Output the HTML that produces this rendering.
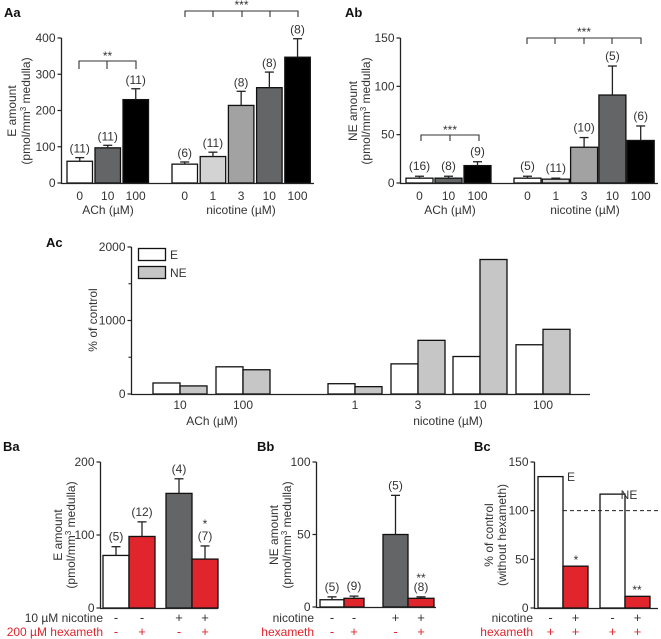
<!DOCTYPE html>
<html><head><meta charset="utf-8">
<style>
html,body{margin:0;padding:0;background:#fff;}
svg{display:block;font-family:"Liberation Sans",sans-serif;}
text{fill:#222;}
</style></head>
<body>
<svg id="fig" width="661" height="639" viewBox="0 0 661 639" xmlns="http://www.w3.org/2000/svg"></svg>
<script>
// ---- Data ----
const aaCats = ["0","10","100","0","1","3","10","100"];
const aaVals = [60,97,230,52,73,214,263,347];
const aaErr = [70,104,260,58,85,253,306,398];
const aaN = ["(11)","(11)","(11)","(6)","(11)","(8)","(8)","(8)"];
const abVals = [5,5,18,5,4,37,91,44];
const abErr = [7,7,22,7,5,47,121,59];
const abN = ["(16)","(8)","(9)","(5)","(11)","(10)","(5)","(6)"];
const acCats = ["10","100","1","3","10","100"];
const acE = [150,370,140,410,510,670];
const acNE = [110,330,100,730,1830,880];
const baVals = [72,98,157,67];
const baErr = [84,118,177,85];
const baN = ["(5)","(12)","(4)","(7)"];
const bbVals = [5,6,50,6];
const bbErr = [7,7.5,77,7];
const bbN = ["(5)","(9)","(5)","(8)"];
const bcVals = [135,43,117,12];
const nicSigns = ["-","-","+","+"];
const hexSigns = ["-","+","-","+"];
const bcNic = ["-","+","-","+"];
const bcHex = ["+","+","+","+"];
const aTicks = [0,100,200,300,400];
const abTicks = [0,50,100,150];
const acTicks = [0,1000,2000];
const baTicks = [0,100,200];
const bbTicks = [0,50,100];
const bcTicks = [0,50,100,150];

const svg = document.getElementById('fig');
const NS = "http://www.w3.org/2000/svg";
function el(tag, attrs, parent){
  const e = document.createElementNS(NS, tag);
  for (const k in attrs) e.setAttribute(k, attrs[k]);
  (parent||svg).appendChild(e);
  return e;
}
function txt(s, x, y, size, anchor, parent, color, weight){
  const t = el('text', {x:x, y:y, 'font-size':size, 'text-anchor':anchor||'middle'}, parent);
  if (color) t.setAttribute('style','fill:'+color);
  if (weight) t.setAttribute('font-weight', weight);
  t.textContent = s;
  return t;
}
function scale(y0, h, max){ return v => y0 - v/max*h; }
function yAxis(g, x, y, ticks, minor, y0, yTop, fs){
  el('line',{x1:x,y1:y0+0.5,x2:x,y2:yTop,stroke:'#222','stroke-width':1.3},g);
  ticks.forEach(t=>{
    el('line',{x1:x-4,y1:y(t),x2:x,y2:y(t),stroke:'#222','stroke-width':1.2},g);
    const l = txt(String(t), x-6, y(t)+4, fs||12, 'end', g, '#333');
    
    
  });
  (minor||[]).forEach(t=>{
    el('line',{x1:x-3,y1:y(t),x2:x,y2:y(t),stroke:'#222','stroke-width':1.1},g);
  });
}
function yTitle(g, lines, cx, cy){
  lines.forEach((s,i)=>{
    const t = el('text',{x:0,y:0,'font-size':12,'text-anchor':'middle',transform:`translate(${cx[i]},${cy}) rotate(-90)`},g);
    t.setAttribute('style','fill:#333');
    t.innerHTML = s;
  });
}
function bar(g, x, w, y, v, err, fill, name){
  const b = el('rect',{x:x, y:y(v), width:w, height:y(0)-y(v), fill:fill, stroke:'#111','stroke-width':1.3},g);
  
  
  if (err!=null){
    const cx = x + w/2;
    el('line',{x1:cx,y1:y(v),x2:cx,y2:y(err),stroke:'#222','stroke-width':1.3},g);
    el('line',{x1:cx-4.5,y1:y(err),x2:cx+4.5,y2:y(err),stroke:'#222','stroke-width':1.3},g);
  }
}
function panelLabel(s,x,y){
  const t = txt(s,x,y,13,'start',svg,'#111','bold');
  
  
}
function bracket(g, x1, x2, y, mids, tick, stars, sy){
  el('path',{d:`M${x1},${y+tick}V${y}H${x2}V${y+tick}`,fill:'none',stroke:'#333','stroke-width':1.1},g);
  mids.forEach(m=>el('line',{x1:m,y1:y,x2:m,y2:y+tick,stroke:'#333','stroke-width':1.1},g));
  txt(stars,(x1+x2)/2,sy,12,'middle',g,'#333');
}

// ---- Panel Aa ----
(function(){
  const g = el('g',{});
  
  
  panelLabel('Aa',4,17);
  const y = scale(183,145,400);
  const fills = ['#fff','#636567','#000','#fff','#d3d3d3','#a2a2a2','#636567','#000'];
  const xs = i => i<3 ? 67+i*28 : 172+(i-3)*28.2;
  aaVals.forEach((v,i)=>{
    bar(g, xs(i), 25.5, y, v, aaErr[i], fills[i], 'bar-aa-'+i);
    txt(aaN[i], xs(i)+12.7, y(aaErr[i])-5, 12,'middle',g,'#333');
    txt(aaCats[i], xs(i)+12.7, 200, 12,'middle',g,'#333');
  });
  el('line',{x1:61,y1:183.5,x2:314,y2:183.5,stroke:'#222','stroke-width':1.3},g);
  yAxis(g,61.5,y,aTicks,[],183,38);
  txt('ACh (\u00b5M)',108,214,12,'middle',g,'#333');
  txt('nicotine (\u00b5M)',241,214,12,'middle',g,'#333');
  yTitle(g,['E amount','(pmol/mm<tspan font-size="8" dy="-4">3</tspan><tspan dy="4"> medulla)</tspan>'],[16,30],111);
  bracket(g,79,136,61,[107],8,'**',60);
  bracket(g,185,298,11,[213,242,270],6,'***',9);
})();

// ---- Panel Ab ----
(function(){
  const g = el('g',{});
  
  
  panelLabel('Ab',345,17);
  const y = scale(183,145,150);
  const fills = ['#fff','#636567','#000','#fff','#d3d3d3','#a2a2a2','#636567','#000'];
  const xs = i => i<3 ? 406+i*29 : 514+(i-3)*28.3;
  abVals.forEach((v,i)=>{
    bar(g, xs(i), 27, y, v, abErr[i], fills[i], 'bar-ab-'+i);
    txt(abN[i], xs(i)+13.5, y(abErr[i])-6, 12,'middle',g,'#333');
    txt(aaCats[i], xs(i)+13.5, 200, 12,'middle',g,'#333');
  });
  el('line',{x1:400,y1:183.5,x2:658,y2:183.5,stroke:'#222','stroke-width':1.3},g);
  yAxis(g,400.5,y,abTicks,[],183,38);
  txt('ACh (\u00b5M)',450,214,12,'middle',g,'#333');
  txt('nicotine (\u00b5M)',585,214,12,'middle',g,'#333');
  yTitle(g,['NE amount','(pmol/mm<tspan font-size="8" dy="-4">3</tspan><tspan dy="4"> medulla)</tspan>'],[357,370],111);
  bracket(g,421,479,135,[450],6,'***',134);
  bracket(g,527,641,38,[555,584,612],6,'***',36);
})();

// ---- Panel Ac ----
(function(){
  const g = el('g',{});
  
  
  panelLabel('Ac',46,247);
  const y = scale(394,147,2000);
  const xs = [153,216,328,391,453,516];
  acE.forEach((v,i)=>{
    bar(g, xs[i], 27, y, v, null, '#fff', 'bar-ac-e-'+acCats[i]);
    bar(g, xs[i]+27, 27, y, acNE[i], null, '#c6c6c6', 'bar-ac-ne-'+acCats[i]);
    txt(acCats[i], xs[i]+27, 409, 12,'middle',g,'#333');
  });
  el('line',{x1:131,y1:394.5,x2:590,y2:394.5,stroke:'#222','stroke-width':1.3},g);
  yAxis(g,131.5,y,acTicks,[500,1500],394,247);
  txt('ACh (\u00b5M)',212,425,12,'middle',g,'#333');
  txt('nicotine (\u00b5M)',448,425,12,'middle',g,'#333');
  yTitle(g,['% of control'],[97],320);
  const l1 = el('rect',{x:138.5,y:248.5,width:27,height:12,fill:'#fff',stroke:'#111','stroke-width':1.3},g);
  
  
  txt('E',170,259,12,'start',g,'#333');
  const l2 = el('rect',{x:138.5,y:266.5,width:27,height:12,fill:'#c6c6c6',stroke:'#111','stroke-width':1.3},g);
  
  
  txt('NE',170,277,12,'start',g,'#333');
})();

// ---- Panel Ba ----
(function(){
  const g = el('g',{});
  
  
  panelLabel('Ba',3,451);
  const y = scale(608,146,200);
  const fills = ['#fff','#e0252d','#636567','#e0252d'];
  const xs = [103,129,166,192];
  baVals.forEach((v,i)=>{
    bar(g, xs[i], 26, y, v, baErr[i], fills[i], 'bar-ba-'+i);
    txt(baN[i], xs[i]+13, y(baErr[i])-6, 12,'middle',g,'#333');
    txt(nicSigns[i], xs[i]+13, 622, 13,'middle',g,'#333');
    txt(hexSigns[i], xs[i]+13, 636, 13,'middle',g,'#e0252d');
  });
  txt('*',205,528,12,'middle',g,'#333');
  el('line',{x1:100,y1:608.5,x2:218,y2:608.5,stroke:'#222','stroke-width':1.3},g);
  yAxis(g,100.5,y,baTicks,[],608,462);
  txt('10 \u00b5M nicotine',103,622,12,'end',g,'#333');
  txt('200 \u00b5M hexameth',103,636,12,'end',g,'#e0252d');
  yTitle(g,['E amount','(pmol/mm<tspan font-size="8" dy="-4">3</tspan><tspan dy="4"> medulla)</tspan>'],[62,75],535);
})();

// ---- Panel Bb ----
(function(){
  const g = el('g',{});
  
  
  panelLabel('Bb',257,451);
  const y = scale(607,145,100);
  const fills = ['#fff','#e0252d','#636567','#e0252d'];
  const xs = [320,344,383,408];
  const ws = [24,20,25,26];
  bbVals.forEach((v,i)=>{
    bar(g, xs[i], ws[i], y, v, bbErr[i], fills[i], 'bar-bb-'+i);
    txt(bbN[i], xs[i]+ws[i]/2, y(bbErr[i])-6, 12,'middle',g,'#333');
    txt(nicSigns[i], xs[i]+ws[i]/2, 622, 13,'middle',g,'#333');
    txt(hexSigns[i], xs[i]+ws[i]/2, 636, 13,'middle',g,'#e0252d');
  });
  txt('**',421,582,12,'middle',g,'#333');
  el('line',{x1:316,y1:607.5,x2:436,y2:607.5,stroke:'#222','stroke-width':1.3},g);
  yAxis(g,316.5,y,bbTicks,[],607,462);
  txt('nicotine',314,622,12,'end',g,'#333');
  txt('hexameth',314,636,12,'end',g,'#e0252d');
  yTitle(g,['NE amount','(pmol/mm<tspan font-size="8" dy="-4">3</tspan><tspan dy="4"> medulla)</tspan>'],[278,291],535);
})();

// ---- Panel Bc ----
(function(){
  const g = el('g',{});
  
  
  panelLabel('Bc',474,451);
  const y = scale(608,146,150);
  const fills = ['#fff','#e0252d','#fff','#e0252d'];
  const xs = [538,563,600,625];
  bcVals.forEach((v,i)=>{
    bar(g, xs[i], 25, y, v, null, fills[i], 'bar-bc-'+i);
    txt(bcNic[i], xs[i]+12.5, 622, 13,'middle',g,'#333');
    txt(bcHex[i], xs[i]+12.5, 636, 13,'middle',g,'#e0252d');
  });
  el('line',{x1:563,y1:y(100),x2:658,y2:y(100),stroke:'#222','stroke-width':1,'stroke-dasharray':'4,3'},g);
  txt('*',576,564,12,'middle',g,'#333');
  txt('**',637,594,12,'middle',g,'#333');
  txt('E',571,481,12,'middle',g,'#333');
  txt('NE',629,499,12,'middle',g,'#333');
  el('line',{x1:534,y1:608.5,x2:658,y2:608.5,stroke:'#222','stroke-width':1.3},g);
  yAxis(g,534.5,y,bcTicks,[],608,462);
  txt('nicotine',533,622,12,'end',g,'#333');
  txt('hexameth',533,636,12,'end',g,'#e0252d');
  yTitle(g,['% of control','(without hexameth)'],[493,506],535);
})();
</script>
</body></html>
